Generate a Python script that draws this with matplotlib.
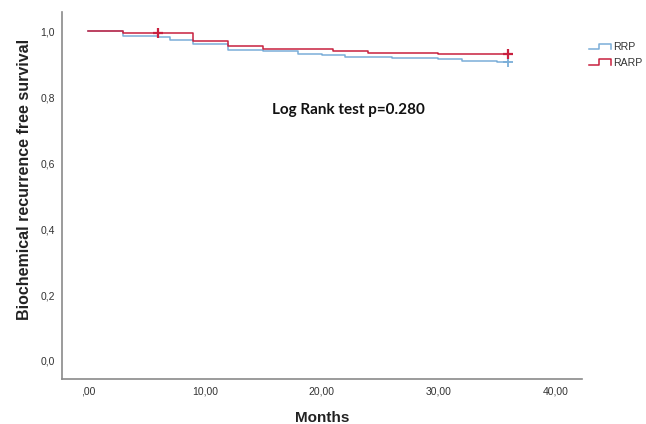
import numpy as np
import matplotlib as mpl
import matplotlib.pyplot as plt
from matplotlib.legend_handler import HandlerBase
from matplotlib.lines import Line2D

mpl.rcParams["axes.unicode_minus"] = False

# Kaplan-Meier step data
rrp_months = [0, 3, 6, 7, 9, 12, 15, 18, 20, 22, 26, 30, 32, 35, 36]
rrp_surv = [1.0, 0.986, 0.982, 0.975, 0.963, 0.945, 0.941, 0.932, 0.928,
            0.923, 0.920, 0.915, 0.911, 0.906, 0.906]
rarp_months = [0, 3, 9, 12, 15, 21, 24, 30, 36]
rarp_surv = [1.0, 0.995, 0.972, 0.955, 0.948, 0.942, 0.936, 0.933, 0.933]

# censored observations
rrp_cens_t = [36]
rarp_cens_t = [6, 36]

xticks = [0, 10, 20, 30, 40]
xticklabels = [",00", "10,00", "20,00", "30,00", "40,00"]
yticks = [0.0, 0.2, 0.4, 0.6, 0.8, 1.0]
yticklabels = ["0,0", "0,2", "0,4", "0,6", "0,8", "1,0"]

blue = "#7aaed8"
red = "#c8203f"
axis_grey = "#8a8a8a"
label_col = "#333333"


class StepHandler(HandlerBase):
    def create_artists(self, legend, orig_handle, xdescent, ydescent,
                       width, height, fontsize, trans):
        x0 = -xdescent
        y_lo = -ydescent + 0.15 * height
        y_hi = -ydescent + 0.85 * height
        xs = [x0, x0 + 0.45 * width, x0 + 0.45 * width, x0 + width, x0 + width]
        ys = [y_lo, y_lo, y_hi, y_hi, y_lo]
        line = Line2D(xs, ys, color=orig_handle.get_color(),
                      linewidth=orig_handle.get_linewidth(), transform=trans)
        return [line]


fig = plt.figure(figsize=(6.46, 4.24), dpi=100)
ax = fig.add_axes([0.096, 0.106, 0.8045, 0.8657])

l1, = ax.step(rrp_months, rrp_surv, where="post", color=blue, lw=1.1, label="RRP")
l2, = ax.step(rarp_months, rarp_surv, where="post", color=red, lw=1.1, label="RARP")


def surv_at(t, months, surv):
    idx = np.searchsorted(months, t, side="right") - 1
    return surv[idx]


ax.plot(rrp_cens_t, [surv_at(t, rrp_months, rrp_surv) for t in rrp_cens_t],
        ls="none", marker="+", ms=6.5, mew=1.3, color=blue)
ax.plot(rarp_cens_t, [surv_at(t, rarp_months, rarp_surv) for t in rarp_cens_t],
        ls="none", marker="+", ms=6.5, mew=1.6, color=red)

ax.set_xlim(-2.23, 42.27)
ax.set_ylim(-0.055, 1.059)

ax.set_xticks(xticks)
ax.set_xticklabels(xticklabels, fontsize=7.5, color=label_col, family="Liberation Sans")
ax.set_yticks(yticks)
ax.set_yticklabels(yticklabels, fontsize=7.5, color=label_col, family="Liberation Sans")
ax.tick_params(axis="both", length=0)
ax.tick_params(axis="x", pad=5)
ax.tick_params(axis="y", pad=5)

for s in ["top", "right"]:
    ax.spines[s].set_visible(False)
for s in ["left", "bottom"]:
    ax.spines[s].set_color(axis_grey)
    ax.spines[s].set_linewidth(1.2)

ax.set_xlabel("Months", fontsize=11, fontweight="bold", family="Liberation Sans",
              color="#222222", labelpad=11)
ax.set_ylabel("Biochemical recurrence free survival", fontsize=11.5,
              fontweight="bold", family="Liberation Sans", color="#222222")
ax.yaxis.set_label_coords(-0.058, 0.545)

ax.text(22.3, 0.762, "Log Rank test p=0.280", ha="center", va="center",
        fontsize=11, fontweight="bold", family="Lato", color="#111111")

fig.legend(handles=[l1, l2], labels=["RRP", "RARP"], loc="upper left",
           bbox_to_anchor=(0.905, 0.91), frameon=False,
           prop={"family": "Liberation Sans", "size": 7.6},
           handler_map={Line2D: StepHandler()}, handlelength=2.1,
           handletextpad=0.2, labelspacing=0.5, borderaxespad=0,
           labelcolor="#333333")

fig.savefig("out.png", dpi=100)
